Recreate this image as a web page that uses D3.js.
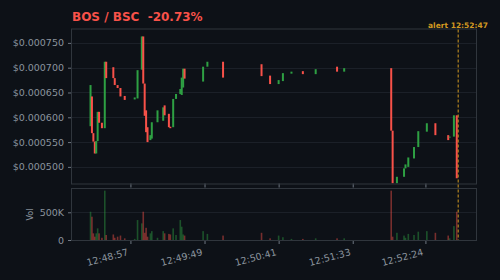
<!DOCTYPE html>
<html>
<head>
<meta charset="utf-8">
<script src="https://cdn.jsdelivr.net/npm/d3@7"></script>
<style>
  body { margin: 0; background: #0d1117; }
  svg { display: block; font-family: "DejaVu Sans", sans-serif; }
</style>
</head>
<body>
<div id="chart"></div>
<script>
var pair = "BOS / BSC";
var change = "-20.73%";
var alertTime = "12:52:47";
var timeStart = "12:48:16";
var timeEnd = "12:52:59";

var times = ["12:48:29","12:48:30","12:48:31","12:48:32","12:48:33","12:48:34","12:48:35","12:48:37",
  "12:48:39","12:48:40","12:48:45","12:48:46","12:48:48","12:48:50","12:48:53","12:49:00","12:49:02",
  "12:49:05","12:49:06","12:49:07","12:49:08","12:49:09","12:49:11","12:49:12","12:49:16","12:49:20",
  "12:49:21","12:49:24","12:49:25","12:49:27","12:49:29","12:49:32","12:49:33","12:49:34","12:49:35",
  "12:49:48","12:49:51","12:50:02","12:50:29","12:50:35","12:50:41","12:50:44","12:50:50","12:50:58",
  "12:51:07","12:51:22","12:51:27","12:52:00","12:52:01","12:52:04","12:52:09","12:52:10","12:52:12",
  "12:52:16","12:52:19","12:52:25","12:52:31","12:52:40","12:52:41","12:52:44","12:52:46"];
// prices in millionths of a dollar
var opens = [582,642,568,551,527,552,611,589,578,712,701,679,665,659,643,636,638,
  696,763,668,614,580,554,557,590,593,624,607,581,580,637,647,645,660,698,
  672,702,712,707,684,667,673,688,693,687,702,692,699,573,467,480,497,500,
  517,540,571,588,564,559,561,604];
var closes = [665,568,551,527,552,611,589,578,712,679,679,665,659,642,635,640,695,
  763,668,603,570,550,564,590,614,620,604,580,578,637,647,657,680,698,678,
  702,712,680,683,667,675,689,692,687,697,692,699,573,467,480,497,505,519,
  540,572,588,564,554,561,604,477];
// volume in thousands
var volumes = [510,420,120,60,120,210,120,40,890,90,100,40,60,80,30,20,360,
  300,510,130,220,60,120,160,40,160,120,110,100,210,90,360,240,100,80,
  160,110,80,130,30,80,50,20,20,30,30,30,890,60,130,80,40,110,
  90,150,160,130,80,30,250,510];

var priceTicks = [500, 550, 600, 650, 700, 750];
var priceDomain = [466.5, 777];
var volTicks = [0, 500];
var volMax = 920;
var timeTicks = ["12:48:57","12:49:49","12:50:41","12:51:33","12:52:24"];

var W = 500, H = 280;
var left = 72, right = 476;
var mainTop = 29.5, mainBottom = 183.5;
var volTop = 189, volBottom = 240;

var colUp = "#2ea043", colDown = "#f85149";
var colText = "#8b949e", colBorder = "#30363d", colGrid = "#1b2028";
var colAlert = "#d29922";

var parse = d3.timeParse("%H:%M:%S");
var data = times.map(function(t, i) {
  return { t: parse(t), o: opens[i] * 1e-6, c: closes[i] * 1e-6, v: volumes[i] * 1000 };
});

var svg = d3.select("#chart").append("svg")
  .attr("width", W)
  .attr("height", H);

svg.append("rect").attr("width", W).attr("height", H).attr("fill", "#0d1117");

var x = d3.scaleTime()
  .domain([parse(timeStart), d3.timeMillisecond.offset(parse(timeEnd), 500)])
  .range([left, right]);

var y = d3.scaleLinear()
  .domain([priceDomain[0] * 1e-6, priceDomain[1] * 1e-6])
  .range([mainBottom, mainTop]);

var yv = d3.scaleLinear()
  .domain([0, volMax * 1000])
  .range([volBottom, volTop]);

svg.append("clipPath").attr("id", "clipMain")
  .append("rect").attr("x", left).attr("y", mainTop).attr("width", right - left).attr("height", mainBottom - mainTop);

// grid
svg.append("g").selectAll("line")
  .data(priceTicks)
  .enter().append("line")
  .attr("x1", left).attr("x2", right)
  .attr("y1", function(d) { return Math.round(y(d * 1e-6)) + 0.5; })
  .attr("y2", function(d) { return Math.round(y(d * 1e-6)) + 0.5; })
  .attr("stroke", colGrid);

svg.append("line")
  .attr("x1", left).attr("x2", right)
  .attr("y1", Math.round(yv(500000)) + 0.5).attr("y2", Math.round(yv(500000)) + 0.5)
  .attr("stroke", colGrid);

// y axis price
var fmtPrice = function(d) { return "$" + d.toFixed(6); };
var yAxis = svg.append("g")
  .attr("transform", "translate(" + left + ",0)")
  .call(d3.axisLeft(y).tickValues(priceTicks.map(function(d) { return d * 1e-6; }))
    .tickFormat(fmtPrice).tickSize(4).tickPadding(4));
yAxis.select(".domain").remove();

var vAxis = svg.append("g")
  .attr("transform", "translate(" + left + ",0)")
  .call(d3.axisLeft(yv).tickValues(volTicks.map(function(d) { return d * 1000; }))
    .tickFormat(function(d) { return d === 0 ? "0" : (d / 1000) + "K"; }).tickSize(4).tickPadding(4));
vAxis.select(".domain").remove();

var tickDates = timeTicks.map(parse);
var xAxisMain = svg.append("g")
  .attr("transform", "translate(0," + mainBottom + ")")
  .call(d3.axisBottom(x).tickValues(tickDates).tickFormat("").tickSize(4));
xAxisMain.select(".domain").remove();

var xAxisVol = svg.append("g")
  .attr("transform", "translate(0," + volBottom + ")")
  .call(d3.axisBottom(x).tickValues(tickDates).tickFormat(d3.timeFormat("%H:%M:%S")).tickSize(4));
xAxisVol.select(".domain").remove();
xAxisVol.selectAll("text")
  .attr("text-anchor", "end")
  .attr("y", 0).attr("dy", 0)
  .attr("transform", "translate(-2,15) rotate(-15)");

svg.selectAll(".tick line").attr("stroke", "#6e7681");
svg.selectAll(".tick text").attr("fill", colText).style("font-size", "9.5px").style("font-family", "DejaVu Sans");

// panel borders
svg.append("rect")
  .attr("x", left - 0.5).attr("y", mainTop - 0.5)
  .attr("width", right - left + 1).attr("height", mainBottom - mainTop + 1)
  .attr("fill", "none").attr("stroke", colBorder);
svg.append("rect")
  .attr("x", left - 0.5).attr("y", volTop - 0.5)
  .attr("width", right - left + 1).attr("height", volBottom - volTop + 1)
  .attr("fill", "none").attr("stroke", colBorder);

// volume bars
svg.append("g").selectAll("rect")
  .data(data)
  .enter().append("rect")
  .attr("x", function(d) { return x(d.t) - 0.8; })
  .attr("width", 1.6)
  .attr("y", function(d) { return yv(d.v); })
  .attr("height", function(d) { return volBottom - yv(d.v); })
  .attr("fill", function(d) { return d.c >= d.o ? colUp : colDown; })
  .attr("opacity", 0.45);

// candles
svg.append("g").attr("clip-path", "url(#clipMain)").selectAll("rect")
  .data(data)
  .enter().append("rect")
  .attr("x", function(d) { return x(d.t) - 1; })
  .attr("width", 2)
  .attr("y", function(d) { return y(Math.max(d.o, d.c)); })
  .attr("height", function(d) { return Math.max(1, Math.abs(y(d.o) - y(d.c))); })
  .attr("fill", function(d) { return d.c >= d.o ? colUp : colDown; });

// alert marker
var ax = x(parse(alertTime));
svg.append("line")
  .attr("x1", ax).attr("x2", ax)
  .attr("y1", mainTop).attr("y2", volBottom)
  .attr("stroke", colAlert).attr("stroke-width", 1)
  .attr("stroke-dasharray", "3,2");

svg.append("text")
  .attr("x", 488).attr("y", 28)
  .attr("text-anchor", "end")
  .attr("fill", colAlert)
  .style("font-size", "7.5px").style("font-weight", "bold")
  .text("alert " + alertTime);

// title
svg.append("text")
  .attr("x", left).attr("y", 21)
  .attr("fill", colDown)
  .style("font-size", "12px").style("font-weight", "bold")
  .style("white-space", "pre")
  .text(pair + "  " + change);

// vol label
svg.append("text")
  .attr("transform", "translate(33," + ((volTop + volBottom) / 2) + ") rotate(-90)")
  .attr("text-anchor", "middle")
  .attr("fill", colText)
  .style("font-size", "8px")
  .text("Vol");
</script>
</body>
</html>
